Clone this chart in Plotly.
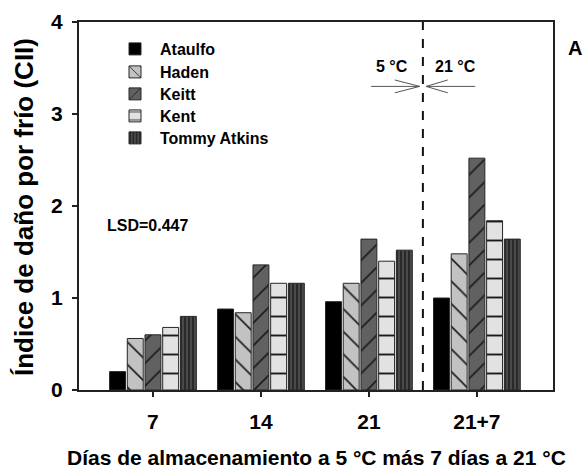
import plotly.graph_objects as go

categories = ["7", "14", "21", "21+7"]
cultivars = ["Ataulfo", "Haden", "Keitt", "Kent", "Tommy Atkins"]
ataulfo = [0.20, 0.88, 0.96, 1.00]
haden = [0.56, 0.84, 1.16, 1.48]
keitt = [0.60, 1.36, 1.64, 2.52]
kent = [0.68, 1.16, 1.40, 1.84]
tommy = [0.80, 1.16, 1.52, 1.64]
series = [ataulfo, haden, keitt, kent, tommy]

colors = ["#000000", "#c2c2c2", "#616161", "#e2e2e2", "#4a4a4a"]
shapes_p = ["", "\\", "/", "-", "|"]
psize = [8, 16, 16, 19, 4]
psolid = [0.1, 0.1, 0.1, 0.1, 0.35]

FONT = "Liberation Sans, Arial, sans-serif"
H, T, B = 468, 22, 78
plot_h = H - T - B
legend_rows_px = [49, 72, 94, 116, 138]

fig = go.Figure()
x_idx = list(range(len(categories)))
legend_names = ["legend"] + [f"legend{i}" for i in range(2, len(cultivars) + 1)]
for name, vals, c, sh, ps, so, lg in zip(cultivars, series, colors, shapes_p,
                                         psize, psolid, legend_names):
    fig.add_trace(go.Bar(
        x=x_idx, y=vals, name=name, legend=lg,
        marker=dict(color=c, line=dict(color="#262626", width=1),
                    pattern=dict(shape=sh, fgcolor="#1a1a1a", bgcolor=c,
                                 size=ps, solidity=so, fillmode="replace")),
    ))

legend_layout = {}
for lg, ypx in zip(legend_names, legend_rows_px):
    legend_layout[lg] = dict(x=(110 - 79) / 474, y=(H - B - ypx) / plot_h,
                             xanchor="left", yanchor="middle",
                             font=dict(family=FONT, size=16, weight="bold"),
                             bgcolor="rgba(0,0,0,0)", itemwidth=40)

fig.update_layout(
    width=584, height=H,
    margin=dict(l=79, r=31, t=T, b=B, autoexpand=False),
    plot_bgcolor="white", paper_bgcolor="white",
    barmode="group", bargap=0.18, bargroupgap=0.1,
    font=dict(family=FONT, size=21, color="#000000", weight="bold"),
    showlegend=True,
    xaxis=dict(range=[-0.685, 3.705], tickmode="array", tickvals=x_idx,
               ticktext=categories, showline=True, linecolor="#222222",
               linewidth=2, mirror=True, ticks="outside", ticklen=5,
               tickwidth=1.5, tickcolor="#222222", showgrid=False,
               zeroline=False, ticklabelstandoff=7, automargin=False,
               tickfont=dict(size=21, weight="bold")),
    yaxis=dict(range=[0, 4], tickvals=[0, 1, 2, 3, 4], showline=True,
               linecolor="#222222", linewidth=2, mirror=True, ticks="outside",
               ticklen=5, tickwidth=1.5, tickcolor="#222222", showgrid=False,
               zeroline=False, ticklabelstandoff=5, automargin=False,
               tickfont=dict(size=21, weight="bold")),
    **legend_layout,
)

# axis titles
fig.add_annotation(x=(316 - 79) / 474, y=(H - B - 457) / plot_h, xref="paper",
                   yref="paper", xanchor="center", yanchor="middle",
                   text="Días de almacenamiento a 5 °C más 7 días a 21 °C",
                   showarrow=False, font=dict(size=21, weight="bold"))
fig.add_annotation(x=(24 - 79) / 474, y=(H - B - 207) / plot_h, xref="paper",
                   yref="paper", xanchor="center", yanchor="middle",
                   text="Índice de daño por frío (CII)",
                   textangle=-90, showarrow=False,
                   font=dict(size=26, weight="bold"))

# divider between storage at 5 °C and 21 °C
fig.add_shape(type="line", xref="x", yref="y", x0=2.5, x1=2.5, y0=0, y1=4,
              line=dict(color="#111111", width=2, dash="dash"))

ay = 3.30
arrow_col = "#555555"
for (tail, head, vend) in [(2.02, 2.47, 2.24), (2.985, 2.53, 2.73)]:
    fig.add_shape(type="line", xref="x", yref="y", x0=tail, x1=head, y0=ay, y1=ay,
                  line=dict(color=arrow_col, width=1))
    for dy in (0.07, -0.07):
        fig.add_shape(type="line", xref="x", yref="y", x0=vend, x1=head,
                      y0=ay + dy, y1=ay, line=dict(color=arrow_col, width=1))

fig.add_annotation(x=2.215, y=3.52, xref="x", yref="y", text="5 °C",
                   xanchor="center", yanchor="middle",
                   showarrow=False, font=dict(size=16, weight="bold"))
fig.add_annotation(x=2.80, y=3.52, xref="x", yref="y", text="21 °C",
                   xanchor="center", yanchor="middle",
                   showarrow=False, font=dict(size=16, weight="bold"))
fig.add_annotation(x=-0.05, y=1.79, xref="x", yref="y", text="LSD=0.447",
                   xanchor="center", yanchor="middle",
                   showarrow=False, font=dict(size=16, weight="bold"))
fig.add_annotation(x=(575 - 79) / 474, y=(H - B - 48) / plot_h, xref="paper",
                   yref="paper", xanchor="center", yanchor="middle", text="A",
                   showarrow=False, font=dict(size=20, weight="bold"))

fig.write_html("out.html")
